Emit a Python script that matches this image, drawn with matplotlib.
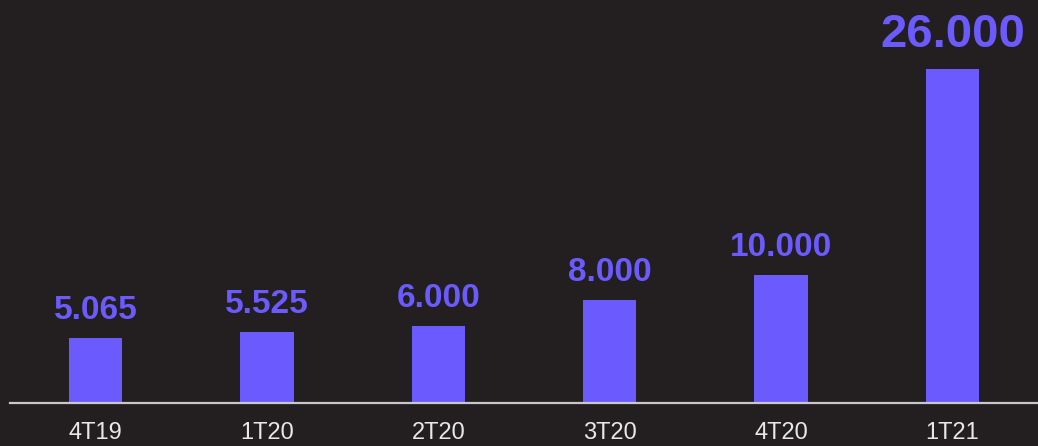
import matplotlib
matplotlib.use("Agg")
import matplotlib.pyplot as plt

categories = ["4T19", "1T20", "2T20", "3T20", "4T20", "1T21"]
values = [5065, 5525, 6000, 8000, 10000, 26000]

BG = "#231f20"
BAR = "#6b5bff"
plt.rcParams['font.family'] = ['Liberation Sans', 'DejaVu Sans']

fig = plt.figure(figsize=(10.38, 4.46), dpi=100, facecolor=BG)
ax = fig.add_axes([10/1038, 1 - 403/446, 1028/1038, 403/446])
ax.set_facecolor(BG)

x = range(len(categories))
ax.bar(x, values, width=0.31, color=BAR, zorder=2)
ax.set_xlim(-0.5, 5.5)
ax.set_ylim(0, 31372)

def fmt(v):
    return f"{v:,}".replace(",", ".")

for i, v in enumerate(values):
    size = 34 if i == len(values) - 1 else 24
    ax.annotate(fmt(v), (i, v), xytext=(0, 8.6), textcoords="offset points",
                ha="center", va="bottom", fontsize=size, fontweight="bold",
                color=BAR, annotation_clip=False)

ax.set_xticks(list(x))
ax.set_xticklabels(categories, fontsize=17, color="#e8e8e8")
ax.tick_params(axis="x", length=0, pad=14)
ax.set_yticks([])
for s in ["top", "right", "left"]:
    ax.spines[s].set_visible(False)
ax.spines["bottom"].set_color("#c8c8c8")
ax.spines["bottom"].set_linewidth(1.6)

fig.savefig("out.png", dpi=100, facecolor=BG)
